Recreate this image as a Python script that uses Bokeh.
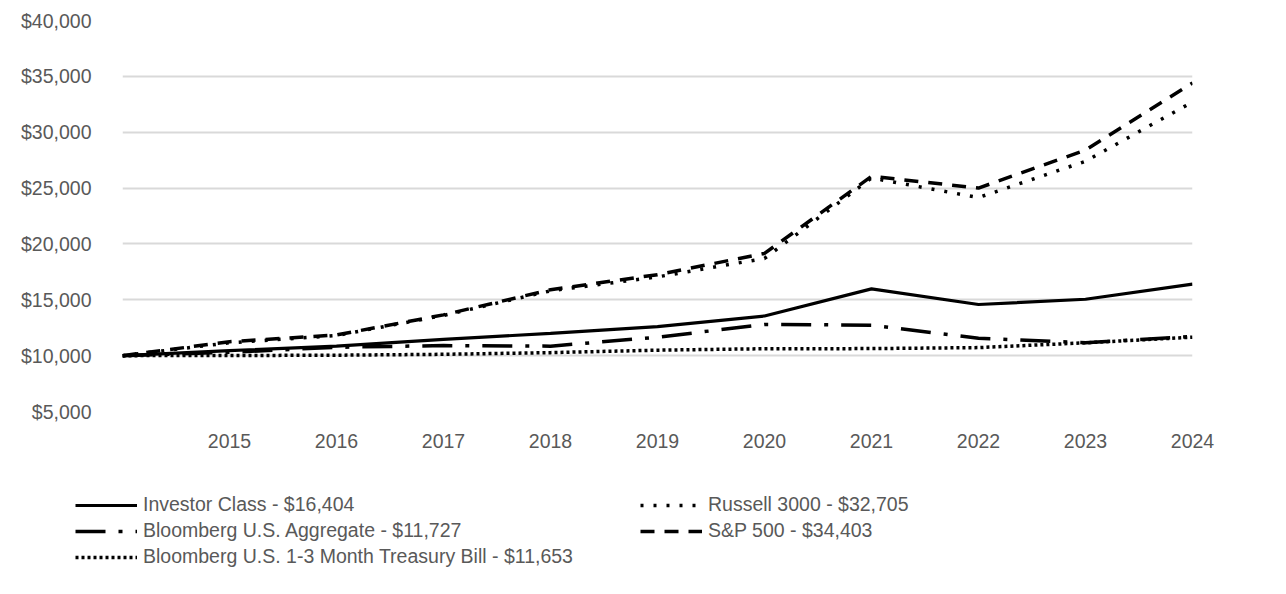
from bokeh.plotting import figure
from bokeh.layouts import column
from bokeh.models import Legend, LegendItem, FixedTicker, NumeralTickFormatter, Range1d
from bokeh.embed import file_html
from bokeh.resources import INLINE

years = [2014, 2015, 2016, 2017, 2018, 2019, 2020, 2021, 2022, 2023, 2024]
tick_years = [2015, 2016, 2017, 2018, 2019, 2020, 2021, 2022, 2023, 2024]
tick_labels = [str(y) for y in tick_years]
y_ticks = [5000, 10000, 15000, 20000, 25000, 30000, 35000, 40000]

investor = [10000, 10450, 10850, 11450, 12000, 12600, 13550, 15980, 14580, 15050, 16404]
russell = [10000, 11150, 11800, 13600, 15800, 17050, 18700, 25900, 24150, 27400, 32705]
agg = [10000, 10300, 10750, 10900, 10850, 11650, 12790, 12730, 11550, 11150, 11727]
sp500 = [10000, 11250, 11850, 13650, 15900, 17250, 19150, 26050, 25000, 28400, 34403]
tbill = [10000, 10010, 10040, 10120, 10270, 10490, 10620, 10630, 10720, 11150, 11653]

names = {
    "investor": "Investor Class - $16,404",
    "russell": "Russell 3000 - $32,705",
    "agg": "Bloomberg U.S. Aggregate - $11,727",
    "sp500": "S&P 500 - $34,403",
    "tbill": "Bloomberg U.S. 1-3 Month Treasury Bill - $11,653",
}

styles = {
    "investor": dict(line_color="black", line_width=3.2),
    "russell": dict(line_color="black", line_width=3.5, line_dash="3 10"),
    "agg": dict(line_color="black", line_width=3.5, line_dash="30 13 4 13"),
    "sp500": dict(line_color="black", line_width=3.5, line_dash="14 10"),
    "tbill": dict(line_color="black", line_width=3.5, line_dash="3 3"),
}
series = {"investor": investor, "russell": russell, "agg": agg,
          "sp500": sp500, "tbill": tbill}

FONT = "Liberation Sans"
TXT = "#595959"
FS = "19.5px"

p = figure(width=1280, height=470, output_backend="svg", toolbar_location=None,
           x_range=Range1d(2014, 2024), y_range=Range1d(5000, 40000),
           min_border_left=122, min_border_right=88, min_border_top=20,
           min_border_bottom=59)
p.outline_line_color = None
p.background_fill_color = "white"
p.border_fill_color = "white"

for key in ["tbill", "agg", "russell", "sp500", "investor"]:
    p.line(years, series[key], **styles[key])

p.xgrid.grid_line_color = None
p.ygrid.grid_line_color = "#d9d9d9"
p.ygrid.grid_line_width = 2
p.ygrid.ticker = FixedTicker(ticks=y_ticks)

p.yaxis.ticker = FixedTicker(ticks=y_ticks)
p.yaxis.formatter = NumeralTickFormatter(format="$0,0")
p.xaxis.ticker = FixedTicker(ticks=tick_years)
p.xaxis.major_label_overrides = {y: l for y, l in zip(tick_years, tick_labels)}

for ax in (p.xaxis[0], p.yaxis[0]):
    ax.axis_line_color = None
    ax.major_tick_line_color = None
    ax.minor_tick_line_color = None
    ax.major_tick_out = 0
    ax.major_tick_in = 0
    ax.minor_tick_out = 0
    ax.major_label_text_font = FONT
    ax.major_label_text_font_size = FS
    ax.major_label_text_color = TXT
p.yaxis.major_label_standoff = 31
p.xaxis.major_label_standoff = 22

# legend panel below the chart
p2 = figure(width=1280, height=120, output_backend="svg", toolbar_location=None,
            x_range=Range1d(0, 1), y_range=Range1d(0, 1),
            min_border_left=0, min_border_right=0, min_border_top=0,
            min_border_bottom=0)
p2.axis.visible = False
p2.grid.visible = False
p2.outline_line_color = None
p2.border_fill_color = "white"
if "frame_align" in p2.properties():
    p2.frame_align = False
    p.frame_align = False

# legend-only renderers (drawn outside the visible range)
lr = {key: p2.line([5, 6], [5, 6], **styles[key]) for key in series}

def make_legend(keys, loc):
    return Legend(items=[LegendItem(label=names[k], renderers=[lr[k]]) for k in keys],
                  location=loc, orientation="vertical",
                  glyph_width=62, glyph_height=20, label_height=20,
                  spacing=3, padding=0, margin=0, label_standoff=6,
                  border_line_alpha=0, background_fill_alpha=0,
                  label_text_font=FONT, label_text_font_size=FS,
                  label_text_color=TXT)

p2.add_layout(make_legend(["investor", "agg", "tbill"], (75, 22)), "center")
p2.add_layout(make_legend(["russell", "sp500"], (640, 48)), "center")

layout = column(p, p2, spacing=0)
open("out.html", "w").write(file_html(layout, INLINE))
